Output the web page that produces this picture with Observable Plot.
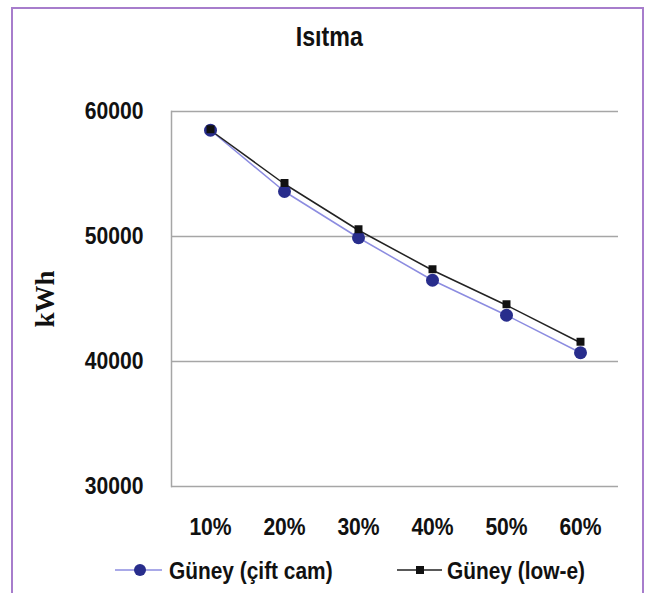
<!DOCTYPE html>
<html>
<head>
<meta charset="utf-8">
<script src="https://cdn.jsdelivr.net/npm/d3@7"></script>
<script src="https://cdn.jsdelivr.net/npm/@observablehq/plot@0.6"></script>
<style>
  html, body { margin: 0; padding: 0; background: #fff; }
  body { width: 659px; height: 593px; position: relative; overflow: hidden; }
  .narrow { font-family: "Liberation Sans", Arial, sans-serif; font-weight: bold; }
  #frame { position: absolute; left: 11px; top: 7px; width: 633px; height: 620px; border: 2px solid #a77dcc; box-sizing: border-box; }
  #chart { position: absolute; left: 0; top: 0; }
  #title { position: absolute; left: 0; width: 659px; top: 24px; text-align: center; font-size: 27px; line-height: 27px; color: #111; transform: scaleX(0.86); transform-origin: 328px 0; }
  .leg { position: absolute; top: 559px; font-size: 24px; line-height: 24px; color: #111; white-space: nowrap; }
  .leg svg { position: absolute; top: 0; }
  .leg span { position: absolute; top: 0; transform: scaleX(0.87); transform-origin: 0 0; }
</style>
</head>
<body>
<div id="frame"></div>
<div id="chart"></div>
<div id="title" class="narrow">Isıtma</div>
<div class="leg narrow" style="left:115px;"><svg width="48" height="24" style="left:0"><line x1="0" y1="11" x2="47" y2="11" stroke="#8c8ce0" stroke-width="1.5"/><circle cx="25" cy="11" r="6" fill="#282d8c"/></svg><span style="left:54px">Güney (çift cam)</span></div>
<div class="leg narrow" style="left:397px;"><svg width="48" height="24" style="left:0"><line x1="0" y1="11" x2="45" y2="11" stroke="#222" stroke-width="1.5"/><rect x="19" y="7" width="8" height="8" fill="#111"/></svg><span style="left:50px">Güney (low-e)</span></div>
<script>
const categories = ["10%", "20%", "30%", "40%", "50%", "60%"];
const ciftCam = [58500, 53600, 49900, 46500, 43700, 40700];
const lowE = [58500, 54200, 50500, 47300, 44500, 41500];
const yTicks = [30000, 40000, 50000, 60000];

const rows1 = categories.map((c, i) => ({ cat: c, v: ciftCam[i] }));
const rows2 = categories.map((c, i) => ({ cat: c, v: lowE[i] }));

const chart = Plot.plot({
  width: 659,
  height: 593,
  marginLeft: 171,
  marginRight: 41,
  marginTop: 111,
  marginBottom: 107,
  style: { background: "transparent", fontFamily: '"Liberation Sans", Arial, sans-serif', fontWeight: "bold", fontSize: "24px", color: "#111" },
  x: { type: "point", domain: categories, padding: 0.5 },
  y: { domain: [30000, 60000] },
  marks: [
    Plot.ruleY(yTicks, { stroke: "#a6a6a6", strokeWidth: 1.5 }),
    Plot.frame({ anchor: "left", stroke: "#a6a6a6", strokeWidth: 1.5 }),
    Plot.axisY({ ticks: yTicks, tickSize: 0, tickPadding: 28, tickFormat: d => String(d), fontSize: 24, label: null }),
    Plot.axisX({ tickSize: 0, tickPadding: 31, fontSize: 24, label: null }),
    Plot.text(["kWh"], { frameAnchor: "left", dx: -126, textAnchor: "middle", rotate: -90, fontFamily: '"Liberation Serif", "Times New Roman", serif', fontSize: 27, fontWeight: "bold", fill: "#111" }),
    Plot.line(rows1, { x: "cat", y: "v", stroke: "#8c8ce0", strokeWidth: 1.5 }),
    Plot.line(rows2, { x: "cat", y: "v", stroke: "#222", strokeWidth: 1.5 }),
    Plot.dot(rows1, { x: "cat", y: "v", r: 6.5, fill: "#282d8c", stroke: "none" }),
    Plot.dot(rows2, { x: "cat", y: "v", symbol: "square", r: 4.5, fill: "#111", stroke: "none", dy: -1 })
  ]
});
chart.querySelectorAll('g[aria-label="y-axis tick label"] text, g[aria-label="x-axis tick label"] text').forEach(t => {
  t.setAttribute("transform", (t.getAttribute("transform") || "") + " scale(0.88,1)");
});
document.getElementById("chart").appendChild(chart);
</script>
</body>
</html>
